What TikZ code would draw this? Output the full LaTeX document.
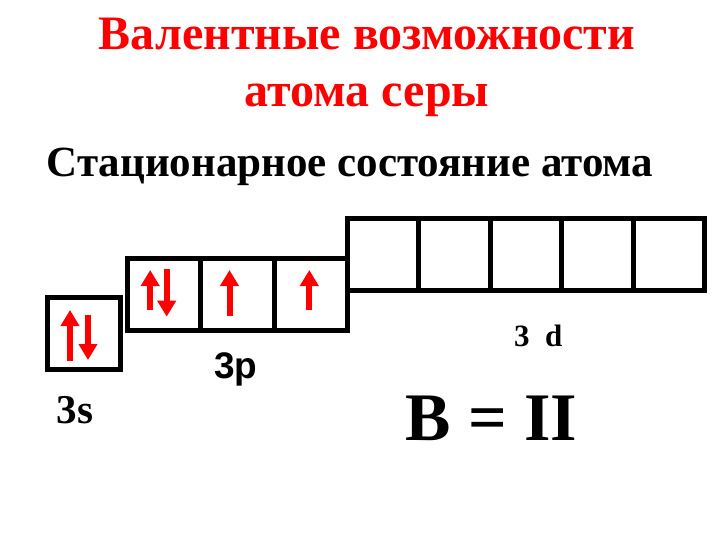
\documentclass[tikz,border=0pt]{standalone}
\usepackage{fontspec}
\setmainfont{Liberation Serif}
\setsansfont{Liberation Sans}
\usetikzlibrary{positioning,arrows.meta}

\begin{document}
\begin{tikzpicture}[x=1pt,y=-1pt,
    orb/.style={draw=black,line width=5pt,minimum width=73.3pt,minimum height=72pt,inner sep=0pt,outer sep=0pt},
    dorb/.style={orb,minimum width=71.4pt,minimum height=71pt},
    spin/.style={red,line width=6pt,-{Triangle[width=18pt,length=16pt]}},
    lbl/.style={inner sep=0pt,anchor=base}]
      \useasboundingbox (0,0) rectangle (720,540);
      \node[lbl,red,font=\bfseries\fontsize{48}{57}\selectfont] (title1) at (367,49.3) {Валентные возможности};
      \node[lbl,red,font=\bfseries\fontsize{48}{57}\selectfont] (title2) at (367,106.7) {атома серы};
      \node[lbl,font=\bfseries\fontsize{43}{48}\selectfont] (state) at (350,177) {Стационарное состояние атома};
      \node[orb] (s) at (83.75,333.75) {};
      \node[orb] (p1) at (164.2,294.5) {};
      \node[orb,right=0pt of p1] (p2) {};
      \node[orb,right=0pt of p2] (p3) {};
      \node[dorb] (d1) at (383.1,254.5) {};
      \node[dorb,right=0pt of d1] (d2) {};
      \node[dorb,right=0pt of d2] (d3) {};
      \node[dorb,right=0pt of d3] (d4) {};
      \node[dorb,right=0pt of d4] (d5) {};
      \draw[spin] (s.center) ++(-13.75,27.25) -- ++(0,-51);
      \draw[spin] (s.center) ++(4.25,-18.75) -- ++(0,45);
      \draw[spin] (p1.center) ++(-14,15.5) -- ++(0,-40);
      \draw[spin] (p1.center) ++(2.5,-25.5) -- ++(0,47.7);
      \draw[spin] (p2.center) ++(-8,21.5) -- ++(0,-46);
      \draw[spin] (p3.center) ++(-1.5,15.5) -- ++(0,-40);
      \node[lbl,font=\bfseries\fontsize{41}{48}\selectfont] (l3s) at (75,423.3) {3s};
      \node[lbl,font=\sffamily\bfseries\fontsize{37}{44}\selectfont] (l3p) at (235.8,378.3) {3p};
      \node[lbl,font=\bfseries\fontsize{31}{36}\selectfont] (l3d) at (538.3,346.7) {3\hspace{0.5em}d};
      \node[lbl,font=\bfseries\fontsize{68}{72}\selectfont] (val) at (491.5,440) {В = II};
\end{tikzpicture}
\end{document}
